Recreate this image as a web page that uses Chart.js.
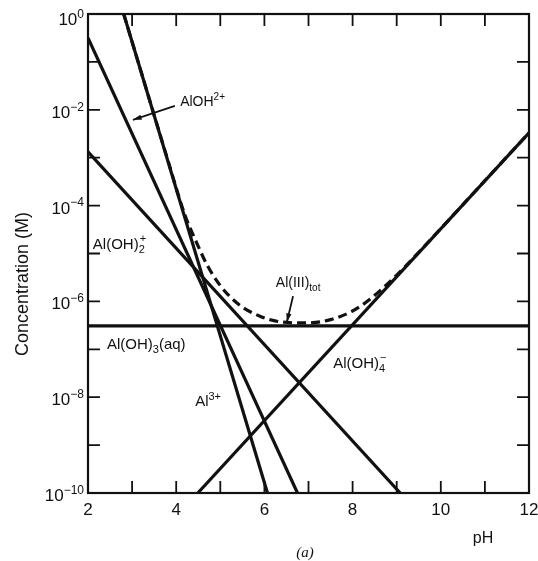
<!DOCTYPE html>
<html>
<head>
<meta charset="utf-8">
<script src="https://cdn.jsdelivr.net/npm/chart.js@4.4.1/dist/chart.umd.min.js"></script>
<style>
  html, body { margin: 0; padding: 0; background: #fff; }
  #wrap { width: 538px; height: 561px; position: relative; }
</style>
</head>
<body>
<div id="wrap"><canvas id="alChart"></canvas></div>
<script>
// log10 concentration of each Al(III) species, read at the ends of each line
const phAl3 = [2.81, 6.07];
const logAl3 = [0, -10];
const phAlOH = [2, 6.75];
const logAlOH = [-0.5, -10];
const phAlOH2 = [2, 9.08];
const logAlOH2 = [-2.88, -10];
const phAlOH3 = [2, 12];
const logAlOH3 = [-6.51, -6.51];
const phAlOH4 = [4.49, 12];
const logAlOH4 = [-10, -2.48];

// total dissolved Al(III), dashed curve
const phTot = [2.81, 3.3, 3.8, 4.2, 4.5, 4.7, 5.0, 5.4, 5.9, 6.4, 7.0, 7.5, 8.0, 8.4, 9.0, 10.0, 11.0, 12.0];
const logTot = [0, -1.5, -3.02, -4.2, -4.85, -5.24, -5.67, -6.05, -6.31, -6.43, -6.45, -6.38, -6.2, -5.95, -5.45, -4.48, -3.48, -2.48];

const xTicks = [2, 4, 6, 8, 10, 12];
const yTickExp = [0, -2, -4, -6, -8, -10];

const ink = '#111';
const font = '"Liberation Sans", Arial, sans-serif';

function pts(xs, logs) {
  return xs.map((x, i) => ({ x: x, y: Math.pow(10, logs[i]) }));
}

function line(xs, logs, dashed) {
  return {
    data: pts(xs, logs),
    borderColor: ink,
    borderWidth: 3.2,
    pointRadius: 0,
    cubicInterpolationMode: dashed ? 'monotone' : 'default',
    borderDash: dashed ? [9, 5] : [],
    fill: false
  };
}

// draws text made of pieces: {t, pos: 'sub' | 'sup' | 'subsup'}
function richText(ctx, x, y, parts, size) {
  let cx = x;
  const small = Math.round(size * 0.72) + 'px ' + font;
  parts.forEach(p => {
    if (!p.pos) {
      ctx.font = size + 'px ' + font;
      ctx.fillText(p.t, cx, y);
      cx += ctx.measureText(p.t).width;
    } else if (p.pos === 'sup') {
      ctx.font = small;
      ctx.fillText(p.t, cx, y - size * 0.42);
      cx += ctx.measureText(p.t).width;
    } else if (p.pos === 'sub') {
      ctx.font = small;
      ctx.fillText(p.t, cx, y + size * 0.28);
      cx += ctx.measureText(p.t).width;
    } else {
      ctx.font = small;
      ctx.fillText(p.sup, cx + 1, y - size * 0.45);
      ctx.fillText(p.sub, cx, y + size * 0.3);
      cx += Math.max(ctx.measureText(p.sup).width, ctx.measureText(p.sub).width) + 1;
    }
  });
  return cx - x;
}

function arrow(ctx, x1, y1, x2, y2) {
  ctx.beginPath();
  ctx.moveTo(x1, y1);
  ctx.lineTo(x2, y2);
  ctx.lineWidth = 1.8;
  ctx.strokeStyle = ink;
  ctx.stroke();
  const a = Math.atan2(y2 - y1, x2 - x1);
  ctx.beginPath();
  ctx.moveTo(x2, y2);
  ctx.lineTo(x2 - 9 * Math.cos(a - 0.3), y2 - 9 * Math.sin(a - 0.3));
  ctx.lineTo(x2 - 9 * Math.cos(a + 0.3), y2 - 9 * Math.sin(a + 0.3));
  ctx.closePath();
  ctx.fillStyle = ink;
  ctx.fill();
}

const frame = {
  id: 'frame',
  afterDraw(chart) {
    const ctx = chart.ctx;
    const a = chart.chartArea;
    const xs = chart.scales.x, ys = chart.scales.y;
    const X = v => xs.getPixelForValue(v);
    const Y = l => ys.getPixelForValue(Math.pow(10, l));
    ctx.save();
    ctx.strokeStyle = ink;
    ctx.fillStyle = ink;

    // box
    ctx.lineWidth = 2.2;
    ctx.strokeRect(a.left, a.top, a.right - a.left, a.bottom - a.top);

    // inward ticks
    ctx.lineWidth = 1.8;
    ctx.beginPath();
    for (let p = 3; p <= 11; p++) {
      ctx.moveTo(X(p), a.bottom); ctx.lineTo(X(p), a.bottom - 12);
      ctx.moveTo(X(p), a.top); ctx.lineTo(X(p), a.top + 12);
    }
    for (let e = -1; e >= -9; e--) {
      ctx.moveTo(a.left, Y(e)); ctx.lineTo(a.left + 12, Y(e));
      ctx.moveTo(a.right, Y(e)); ctx.lineTo(a.right - 12, Y(e));
    }
    ctx.stroke();

    // x tick labels
    ctx.font = '17px ' + font;
    ctx.textAlign = 'center';
    ctx.textBaseline = 'alphabetic';
    xTicks.forEach(v => ctx.fillText(String(v), X(v), a.bottom + 22));

    // y tick labels, 10 with exponent
    ctx.textAlign = 'left';
    yTickExp.forEach(e => {
      const exp = e === 0 ? '0' : '\u2212' + (-e);
      ctx.font = '12px ' + font;
      const sw = ctx.measureText(exp).width;
      ctx.font = '17px ' + font;
      const bw = ctx.measureText('10').width;
      const x0 = a.left - 4 - sw - bw;
      const y0 = e === 0 ? Y(e) + 11 : Y(e) + 8;
      richText(ctx, x0, y0, [{ t: '10' }, { t: exp, pos: 'sup' }], 17);
    });

    // axis titles
    ctx.font = '18px ' + font;
    ctx.textAlign = 'center';
    ctx.save();
    ctx.translate(28, 284);
    ctx.rotate(-Math.PI / 2);
    ctx.fillText('Concentration (M)', 0, 0);
    ctx.restore();
    ctx.font = '16px ' + font;
    ctx.fillText('pH', 483, 543);
    ctx.font = 'italic 15px "Liberation Serif", serif';
    ctx.fillText('(a)', 305, 557);

    // species labels
    ctx.textAlign = 'left';
    richText(ctx, X(4.09), Y(-1.92), [{ t: 'AlOH' }, { t: '2+', pos: 'sup' }], 14);
    richText(ctx, X(2.11), Y(-4.9), [{ t: 'Al(OH)' }, { pos: 'subsup', sup: '+', sub: '2' }], 15);
    richText(ctx, X(2.43), Y(-6.99), [{ t: 'Al(OH)' }, { t: '3', pos: 'sub' }, { t: '(aq)' }], 15);
    richText(ctx, X(4.43), Y(-8.18), [{ t: 'Al' }, { t: '3+', pos: 'sup' }], 15);
    richText(ctx, X(6.26), Y(-5.7), [{ t: 'Al(III)' }, { t: 'tot', pos: 'sub' }], 14);
    richText(ctx, X(7.56), Y(-7.39), [{ t: 'Al(OH)' }, { pos: 'subsup', sup: '\u2212', sub: '4' }], 15);

    // pointer arrows
    arrow(ctx, X(3.97), Y(-1.92), X(3.02), Y(-2.21));
    arrow(ctx, X(6.65), Y(-5.89), X(6.51), Y(-6.43));

    ctx.restore();
  }
};

new Chart(document.getElementById('alChart'), {
  type: 'line',
  data: {
    datasets: [
      line(phAl3, logAl3),
      line(phAlOH, logAlOH),
      line(phAlOH2, logAlOH2),
      line(phAlOH3, logAlOH3),
      line(phAlOH4, logAlOH4),
      line(phTot, logTot, true)
    ]
  },
  options: {
    responsive: true,
    maintainAspectRatio: false,
    animation: false,
    layout: { padding: { left: 88, right: 9, top: 14, bottom: 68 } },
    plugins: { legend: { display: false }, tooltip: { enabled: false } },
    scales: {
      x: { type: 'linear', min: 2, max: 12, display: false },
      y: { type: 'logarithmic', min: 1e-10, max: 1, display: false }
    }
  },
  plugins: [frame]
});
</script>
</body>
</html>
